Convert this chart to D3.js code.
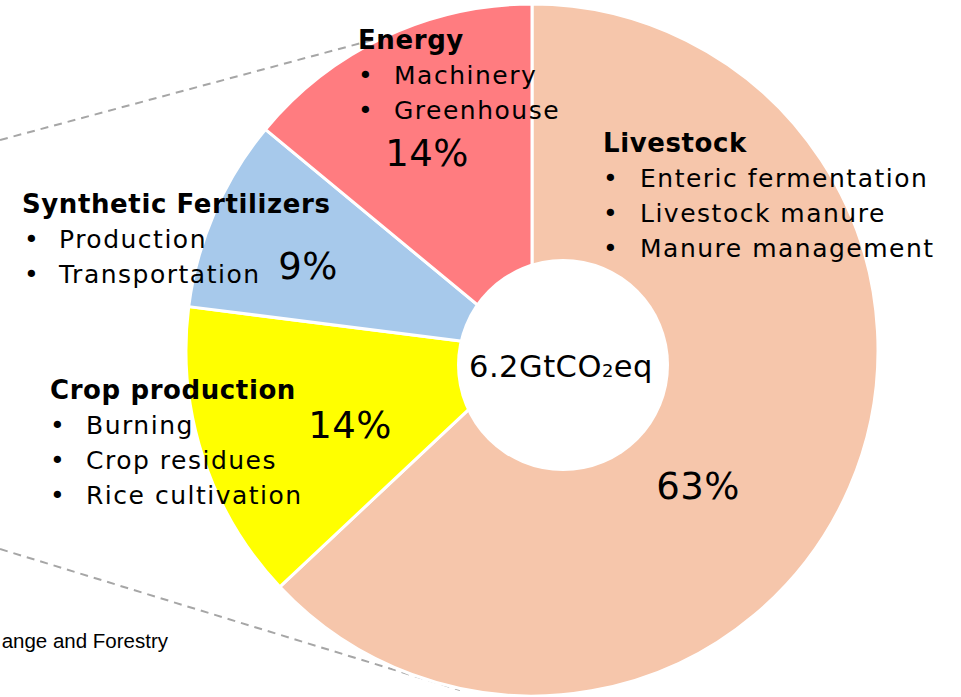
<!DOCTYPE html>
<html lang="en">
<head>
<meta charset="UTF-8" />
<title>Agriculture emissions</title>
<script src="https://cdn.jsdelivr.net/npm/d3@7"></script>
<style>
  body { margin: 0; background: #fff; }
  text { font-family: "DejaVu Sans", Verdana, sans-serif; fill: #000; }
</style>
</head>
<body>
<script>
    let w = 961;
    let h = 697;

    // data
    const categories = ["Livestock", "Crop production", "Synthetic Fertilizers", "Energy"];
    const shares = [63, 14, 9, 14];
    const shareLabels = ["63%", "14%", "9%", "14%"];
    const items = [
        ["Enteric fermentation", "Livestock manure", "Manure management"],
        ["Burning", "Crop residues", "Rice cultivation"],
        ["Production", "Transportation"],
        ["Machinery", "Greenhouse"]
    ];
    const colors = ["#F6C6AB", "#FFFF00", "#A7C9EB", "#FF7C80"];

    // where each block of text sits (x of heading, bullet, item text, baseline of heading) and the % label
    const layout = [
        { hx: 603, bx: 603, tx: 640, hy: 152, pct: [698, 499] },
        { hx: 50, bx: 50, tx: 86, hy: 399, pct: [350, 438] },
        { hx: 22, bx: 24, tx: 59, hy: 213, pct: [308, 279] },
        { hx: 358, bx: 358, tx: 394, hy: 49, pct: [427, 166] }
    ];
    const lineStep = 35;

    let svg = d3.select("body").append("svg")
        .attr("width", w)
        .attr("height", h);

    // dashed leader lines behind the pie
    const dashLines = [
        [[0, 140], [462, 16]],
        [[0, 549], [460, 690]]
    ];
    svg.selectAll(".dash")
        .data(dashLines)
        .enter().append("line")
        .attr("class", "dash")
        .attr("x1", d => d[0][0]).attr("y1", d => d[0][1])
        .attr("x2", d => d[1][0]).attr("y2", d => d[1][1])
        .attr("stroke", "#A6A6A6")
        .attr("stroke-width", 2)
        .attr("stroke-dasharray", "8,6");

    const cx = 532, cy = 350, r = 346;

    let pie = d3.pie().sort(null).value(d => d);
    let arc = d3.arc().innerRadius(0).outerRadius(r);

    let g = svg.append("g").attr("transform", `translate(${cx},${cy})`);

    g.selectAll(".slice")
        .data(pie(shares))
        .enter().append("path")
        .attr("class", "slice")
        .attr("d", arc)
        .attr("fill", (d, i) => colors[i])
        .attr("stroke", "#fff")
        .attr("stroke-width", 3)
        .attr("stroke-linejoin", "bevel");

    // the hole is a little off-centre in the original
    svg.append("circle")
        .attr("cx", 563)
        .attr("cy", 365)
        .attr("r", 106)
        .attr("fill", "#fff");

    let total = svg.append("text")
        .attr("x", 561)
        .attr("y", 377)
        .attr("text-anchor", "middle")
        .attr("font-size", 30.5)
        .attr("letter-spacing", 0.5);
    total.append("tspan").text("6.2GtCO");
    total.append("tspan").attr("font-size", 18).text("2");
    total.append("tspan").text("eq");

    // headings and bullet lists
    categories.forEach((name, i) => {
        let L = layout[i];
        svg.append("text")
            .attr("x", L.hx)
            .attr("y", L.hy)
            .attr("font-size", 26)
            .attr("font-weight", "bold")
            .attr("letter-spacing", 0.6)
            .text(name);

        items[i].forEach((t, j) => {
            let y = L.hy + lineStep * (j + 1);
            svg.append("text")
                .attr("x", L.bx)
                .attr("y", y)
                .attr("font-size", 25)
                .text("\u2022");
            svg.append("text")
                .attr("x", L.tx)
                .attr("y", y)
                .attr("font-size", 25)
                .attr("letter-spacing", 1.5)
                .text(t);
        });

        svg.append("text")
            .attr("x", L.pct[0])
            .attr("y", L.pct[1])
            .attr("text-anchor", "middle")
            .attr("font-size", 37)
            .attr("letter-spacing", 0.5)
            .text(shareLabels[i]);
    });

    svg.append("text")
        .attr("x", 168)
        .attr("y", 648)
        .attr("text-anchor", "end")
        .style("font-family", "'Liberation Sans', Arial, sans-serif")
        .attr("font-size", 20.5)
        .text("ange and Forestry");
</script>
</body>
</html>
